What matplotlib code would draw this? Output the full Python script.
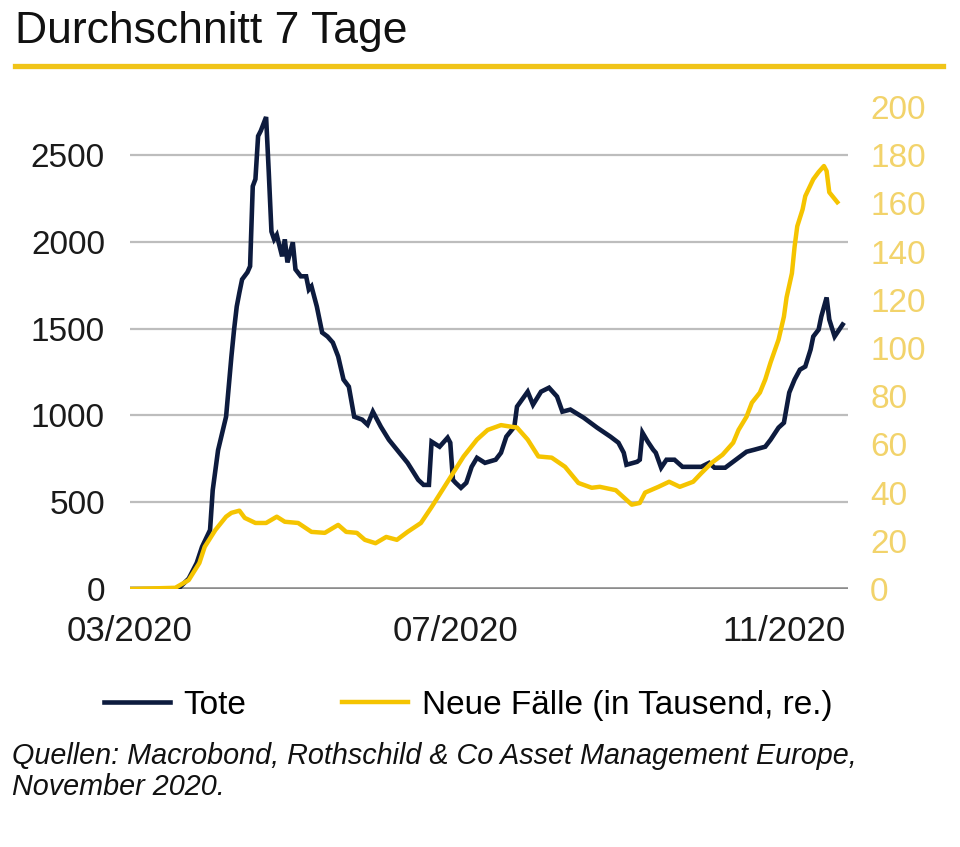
import pandas as pd
import matplotlib.pyplot as plt
import matplotlib.dates as mdates

# Tote (7-Tage-Durchschnitt), linke Achse
tote_datum = ["2020-03-01", "2020-03-19", "2020-03-23", "2020-03-26", "2020-03-28", "2020-03-31",
              "2020-04-01", "2020-04-03", "2020-04-06", "2020-04-07", "2020-04-08", "2020-04-09",
              "2020-04-10", "2020-04-11", "2020-04-12", "2020-04-14", "2020-04-15", "2020-04-16",
              "2020-04-17", "2020-04-18", "2020-04-19", "2020-04-21", "2020-04-22", "2020-04-23",
              "2020-04-24", "2020-04-25", "2020-04-27", "2020-04-28", "2020-04-29", "2020-05-01",
              "2020-05-02", "2020-05-04", "2020-05-06", "2020-05-07", "2020-05-08", "2020-05-10",
              "2020-05-12", "2020-05-14", "2020-05-16", "2020-05-18", "2020-05-20", "2020-05-22",
              "2020-05-24", "2020-05-27", "2020-05-29", "2020-05-31", "2020-06-03", "2020-06-06",
              "2020-06-09", "2020-06-13", "2020-06-17", "2020-06-19", "2020-06-21", "2020-06-22",
              "2020-06-25", "2020-06-28", "2020-06-29", "2020-06-30", "2020-07-01", "2020-07-03",
              "2020-07-05", "2020-07-07", "2020-07-09", "2020-07-12", "2020-07-16", "2020-07-18",
              "2020-07-20", "2020-07-23", "2020-07-24", "2020-07-28", "2020-07-30", "2020-08-02",
              "2020-08-05", "2020-08-08", "2020-08-10", "2020-08-13", "2020-08-18", "2020-08-23",
              "2020-08-28", "2020-08-31", "2020-09-02", "2020-09-03", "2020-09-07", "2020-09-08",
              "2020-09-09", "2020-09-11", "2020-09-13", "2020-09-14", "2020-09-16", "2020-09-18",
              "2020-09-21", "2020-09-24", "2020-09-27", "2020-10-01", "2020-10-04", "2020-10-06",
              "2020-10-10", "2020-10-14", "2020-10-18", "2020-10-21", "2020-10-25", "2020-10-27",
              "2020-10-30", "2020-11-01", "2020-11-03", "2020-11-05", "2020-11-07", "2020-11-09",
              "2020-11-11", "2020-11-12", "2020-11-14", "2020-11-15", "2020-11-17", "2020-11-18",
              "2020-11-20", "2020-11-21", "2020-11-23"]
tote = [0, 0, 60, 150, 243, 340,
        570, 800, 993, 1166, 1340, 1495,
        1628, 1709, 1784, 1825, 1860, 2321,
        2362, 2610, 2640, 2720, 2400, 2060,
        2015, 2040, 1917, 2015, 1882, 1998,
        1842, 1802, 1802, 1726, 1744, 1628,
        1478, 1455, 1420, 1340, 1207, 1166,
        993, 976, 947, 1022, 935, 860,
        803, 727, 629, 600, 600, 849,
        820, 872, 843, 629, 612, 583,
        612, 704, 756, 727, 745, 785,
        878, 935, 1051, 1137, 1062, 1137,
        1160, 1109, 1022, 1034, 987, 930,
        878, 843, 785, 716, 733, 745,
        901, 849, 803, 785, 699, 745,
        745, 704, 704, 704, 727, 699,
        699, 745, 791, 803, 820, 860,
        930, 958, 1132, 1207, 1264, 1282,
        1380, 1455, 1495, 1570, 1680, 1553,
        1455, 1478, 1524]

# Neue Faelle in Tausend, rechte Achse
faelle_datum = ["2020-03-01", "2020-03-18", "2020-03-23", "2020-03-27", "2020-03-29", "2020-04-02",
                "2020-04-06", "2020-04-08", "2020-04-11", "2020-04-13", "2020-04-17", "2020-04-21",
                "2020-04-25", "2020-04-28", "2020-05-03", "2020-05-08", "2020-05-13", "2020-05-18",
                "2020-05-21", "2020-05-25", "2020-05-28", "2020-06-01", "2020-06-05", "2020-06-09",
                "2020-06-13", "2020-06-18", "2020-06-22", "2020-06-26", "2020-06-30", "2020-07-04",
                "2020-07-09", "2020-07-13", "2020-07-18", "2020-07-22", "2020-07-24", "2020-07-28",
                "2020-08-01", "2020-08-06", "2020-08-11", "2020-08-16", "2020-08-21", "2020-08-24",
                "2020-08-30", "2020-09-03", "2020-09-05", "2020-09-08", "2020-09-10", "2020-09-15",
                "2020-09-19", "2020-09-23", "2020-09-28", "2020-10-01", "2020-10-05", "2020-10-09",
                "2020-10-13", "2020-10-15", "2020-10-18", "2020-10-20", "2020-10-23", "2020-10-25",
                "2020-10-27", "2020-10-30", "2020-11-01", "2020-11-02", "2020-11-04", "2020-11-05",
                "2020-11-06", "2020-11-08", "2020-11-09", "2020-11-12", "2020-11-14", "2020-11-16",
                "2020-11-17", "2020-11-18", "2020-11-21"]
faelle = [0, 0.5, 3.7, 10.8, 17.5, 24.5,
          30, 31.6, 32.5, 29.5, 27.4, 27.4,
          30, 27.9, 27.4, 23.7, 23.3, 26.6,
          23.7, 23.3, 20.4, 19, 21.6, 20.4,
          23.7, 27.4, 34, 41, 48, 55,
          62, 66, 68, 67.3, 67, 62,
          55, 54.5, 50.7, 44, 42, 42.4,
          41, 37, 35, 35.7, 40, 42.4,
          44.5, 42.4, 44.5, 48, 52.4, 55.7,
          60.7, 66, 71.5, 77.3, 81.5, 86.9,
          94, 103.5, 113, 121, 131, 142,
          150.5, 157.5, 163, 170, 173, 175.5,
          173.4, 164.6, 160.5]

links_ticks = [0, 500, 1000, 1500, 2000, 2500]
rechts_ticks = [0, 20, 40, 60, 80, 100, 120, 140, 160, 180, 200]
x_ticks = ["2020-03-01", "2020-07-01", "2020-11-01"]

navy = "#0d1b3e"
gelb = "#f5c400"
gelb_hell = "#f2d36b"

plt.rcParams["font.family"] = ["Liberation Sans", "DejaVu Sans"]

fig = plt.figure(figsize=(9.6, 8.47), dpi=100)
ax = fig.add_axes([0.1354, 0.3046, 0.7479, 0.5691])
ax2 = ax.twinx()

l1, = ax.plot(pd.to_datetime(tote_datum), tote, color=navy, lw=3.3, solid_joinstyle="miter")
l2, = ax2.plot(pd.to_datetime(faelle_datum), faelle, color=gelb, lw=3.2)

ax.set_ylim(0, 2777.8)
ax2.set_ylim(0, 200)
ax.set_xlim(pd.Timestamp("2020-03-01"), pd.Timestamp("2020-11-25"))

ax.set_yticks(links_ticks)
ax2.set_yticks(rechts_ticks)
ax.set_xticks(pd.to_datetime(x_ticks))
ax.xaxis.set_major_formatter(mdates.DateFormatter("%m/%Y"))

for a in (ax, ax2):
    for s in a.spines.values():
        s.set_visible(False)

ax.tick_params(axis="y", length=0, labelsize=24, colors="#1a1a1a", pad=18)
ax.tick_params(axis="x", length=0, labelsize=25, colors="#1a1a1a", pad=19)
ax2.tick_params(axis="y", length=0, labelsize=24, colors=gelb_hell, pad=16)

for v in links_ticks[1:]:
    ax.axhline(v, color="#bdbdbd", lw=1.6, zorder=0)
ax.axhline(0, color="#8c8c8c", lw=2.6, zorder=0)

# Titel und Linie
fig.text(0.016, 0.963, "Durchschnitt 7 Tage", fontsize=32,
         color="#111111", va="center", ha="left")
fig.add_artist(plt.Line2D([0.016, 0.982], [0.922, 0.922], color="#f0c419", lw=3.8,
                          transform=fig.transFigure))

fig.legend([l1, l2], ["Tote", "Neue Fälle (in Tausend, re.)"], loc="center",
           bbox_to_anchor=(0.4875, 0.1676), ncol=2, frameon=False,
           prop={"size": 24}, handlelength=2.0,
           handletextpad=0.4, columnspacing=2.85)

fig.text(0.012, 0.107, "Quellen: Macrobond, Rothschild & Co Asset Management Europe,",
         fontsize=20.7, style="italic", color="#111111", va="center")
fig.text(0.012, 0.071, "November 2020.", fontsize=20.7, style="italic",
         color="#111111", va="center")

plt.savefig("out.png", dpi=100)
